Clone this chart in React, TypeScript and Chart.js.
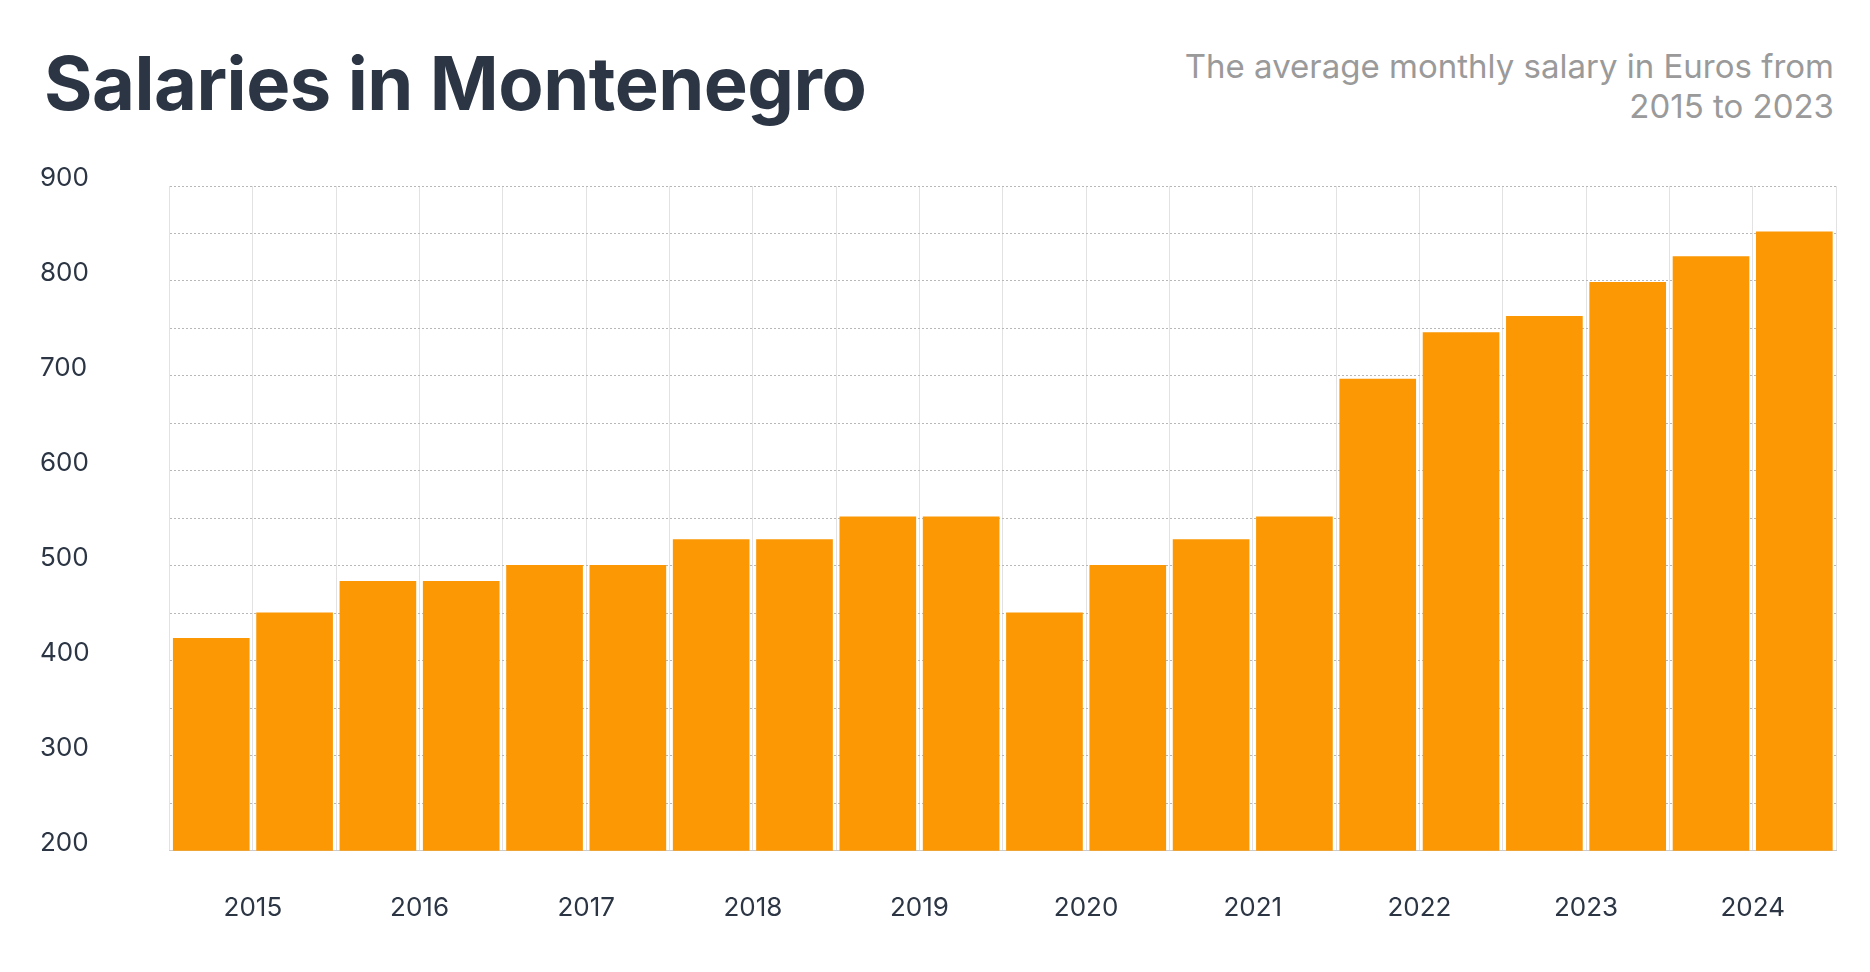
import React, { useEffect, useRef } from "react";
import { Chart, registerables } from "chart.js";
Chart.register(...registerables);

const periods = ["2015 H1","2015 H2","2016 H1","2016 H2","2017 H1","2017 H2","2018 H1","2018 H2","2019 H1","2019 H2","2020 H1","2020 H2","2021 H1","2021 H2","2022 H1","2022 H2","2023 H1","2023 H2","2024 H1","2024 H2"];
const salaries = [424,451,484,484,501,501,528,528,552,552,451,501,528,552,697,746,763,799,826,852];
const years = ["2015","2016","2017","2018","2019","2020","2021","2022","2023","2024"];

export default function App() {
  const ref = useRef<HTMLCanvasElement>(null);
  useEffect(() => {
    const chart = new Chart(ref.current!, {
      type: "bar",
      data: { labels: periods, datasets: [{ data: salaries, backgroundColor: "#fb9804", categoryPercentage: 1, barPercentage: 0.92, xAxisID: "x" }] },
      options: {
        animation: false, responsive: false, maintainAspectRatio: false,
        layout: { padding: { top: 186, right: 34, bottom: 14, left: 40 } },
        plugins: { legend: { display: false }, tooltip: { enabled: false } },
        scales: {
          x: { offset: true, grid: { color: "#e2e2e2", drawTicks: false, offset: true }, border: { color: "#cccccc", display: true }, ticks: { display: false } },
          x2: { type: "category", labels: years, offset: true, position: "bottom", grid: { display: false }, border: { display: false },
            ticks: { color: "#2b3544", font: { family: "Inter", size: 26 }, padding: 34 } },
          y: { min: 200, max: 900, grid: { color: "#b8b8b8", drawTicks: false }, border: { display: false, dash: [2, 2] },
            ticks: { stepSize: 50, color: "#2b3544", font: { family: "Inter", size: 26 }, padding: 40, crossAlign: "far", labelOffset: -8,
              callback: (v: any) => (Number(v) % 100 === 0 ? String(v) : "") } },
        },
      },
    });
    return () => chart.destroy();
  }, []);
  return (
    <div style={{ position: "fixed", left: 0, top: 0, width: 1870, height: 972, background: "#fff", fontFamily: "Inter" }}>
      <div style={{ position: "absolute", left: 44, top: 38, fontSize: 74, fontWeight: 700, color: "#2b3544", letterSpacing: -0.5 }}>Salaries in Montenegro</div>
      <div style={{ position: "absolute", right: 36, top: 46, fontSize: 33, color: "#9a9a9a", textAlign: "right", lineHeight: "40px" }}>The average monthly salary in Euros from<br />2015 to 2023</div>
      <canvas ref={ref} width={1870} height={972} style={{ position: "absolute", left: 0, top: 0 }} />
    </div>
  );
}
